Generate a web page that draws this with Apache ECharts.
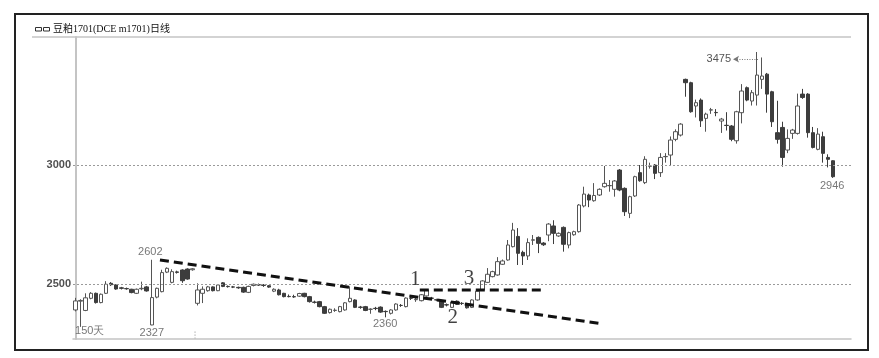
<!DOCTYPE html>
<html>
<head>
<meta charset="utf-8">
<script src="https://cdn.jsdelivr.net/npm/echarts@6/dist/echarts.min.js"></script>
<style>
html,body{margin:0;padding:0;background:#fff;}
#chart{width:879px;height:358px;}
</style>
</head>
<body>
<div id="chart"></div>
<script>
// ---- data ----
const titleText = '豆粕1701(DCE m1701)日线';
const yTicks = [2500, 3000];
const opens = [2391,2428,2389,2440,2461,2422,2461,2503,2496,2484,2481,2478,2461,2480,2488,2328,2445,2468,2550,2507,
2551,2559,2563,2560,2419,2461,2472,2488,2472,2505,2490,2488,2486,2486,2465,2494,2497,2495,2493,2470,
2475,2461,2448,2447,2449,2461,2447,2424,2426,2405,2380,2389,2384,2391,2426,2433,2403,2405,2394,2398,
2403,2385,2377,2391,2410,2405,2440,2434,2430,2450,2441,2434,2428,2413,2402,2428,2419,2418,2402,2433,
2475,2507,2531,2538,2583,2601,2657,2700,2633,2618,2684,2696,2672,2706,2744,2702,2738,2664,2707,2720,
2828,2874,2850,2874,2909,2913,2898,2979,2902,2797,2870,2968,2926,2995,3000,2968,3035,3042,3108,3126,
3360,3346,3248,3273,3196,3231,3221,3185,3167,3164,3102,3220,3325,3269,3294,3360,3382,3308,3136,3158,
3063,3133,3133,3298,3298,3136,3066,3119,3032,3018];
const closes = [2429,2431,2442,2461,2422,2457,2499,2497,2479,2482,2480,2464,2478,2482,2471,2443,2482,2548,2566,2552,
2549,2514,2521,2564,2475,2478,2488,2472,2496,2490,2489,2487,2484,2466,2490,2499,2496,2494,2487,2478,
2455,2447,2447,2446,2460,2447,2426,2423,2405,2377,2394,2390,2405,2421,2440,2402,2402,2389,2394,2397,
2382,2384,2391,2416,2410,2441,2440,2436,2455,2475,2440,2433,2402,2412,2425,2415,2418,2400,2433,2470,
2513,2541,2552,2594,2597,2664,2727,2629,2618,2674,2686,2671,2665,2752,2713,2713,2667,2716,2720,2832,
2878,2853,2872,2898,2923,2914,2933,2895,2804,2867,2951,2934,3024,2996,2965,3032,3036,3105,3140,3172,
3346,3224,3262,3186,3214,3232,3220,3193,3166,3108,3224,3311,3273,3304,3378,3374,3298,3182,3108,3032,
3112,3147,3248,3284,3136,3074,3130,3049,3024,2951];
const lows = [2385,2320,2386,2436,2418,2419,2458,2492,2476,2477,2476,2461,2458,2474,2468,2327,2440,2465,2546,2503,
2544,2505,2518,2556,2410,2420,2468,2469,2470,2487,2485,2483,2480,2463,2462,2490,2492,2488,2484,2466,
2452,2444,2444,2442,2446,2444,2422,2418,2402,2374,2376,2383,2381,2388,2423,2399,2396,2386,2375,2390,
2379,2360,2372,2388,2404,2402,2433,2425,2427,2447,2435,2428,2399,2406,2399,2412,2412,2397,2399,2430,
2472,2504,2528,2535,2580,2598,2654,2580,2580,2601,2664,2630,2660,2680,2668,2698,2636,2650,2703,2716,
2822,2823,2846,2870,2905,2888,2867,2890,2786,2777,2866,2930,2920,2985,2941,2950,3010,3000,3100,3120,
3287,3220,3200,3160,3140,3215,3205,3135,3145,3100,3090,3175,3268,3250,3250,3320,3220,3160,3090,2993,
3050,3110,3128,3278,3115,3070,3062,3010,2990,2946];
const highs = [2442,2436,2461,2466,2464,2460,2512,2508,2499,2488,2485,2480,2481,2510,2492,2602,2485,2560,2570,2562,
2556,2562,2566,2567,2503,2490,2492,2490,2500,2508,2494,2492,2489,2489,2493,2502,2502,2500,2496,2482,
2480,2463,2456,2455,2463,2463,2450,2430,2429,2408,2397,2398,2408,2424,2490,2436,2408,2408,2398,2404,
2406,2389,2394,2419,2416,2444,2446,2445,2458,2478,2446,2438,2431,2418,2428,2431,2424,2421,2436,2473,
2516,2567,2556,2613,2603,2685,2757,2735,2640,2692,2706,2700,2676,2756,2768,2717,2742,2720,2724,2836,
2909,2880,2924,2902,2996,2937,2937,2983,2906,2871,2955,3000,3037,3010,3004,3050,3050,3120,3150,3176,
3363,3350,3275,3280,3220,3240,3235,3198,3222,3168,3228,3340,3330,3315,3475,3452,3387,3312,3270,3182,
3150,3152,3300,3320,3302,3160,3155,3140,3045,3020];
const emptySlots = 3; // blank space at the right end of the axis
// trend lines drawn on the chart: [dayIndex, price]
const trendDown = [[16.6, 2601], [103.3, 2334]];
const trendFlat = [[67.7, 2475], [91.9, 2475]];
// annotations: text, day position, price position
const noteText = ['2602', '2327', '150天', '2360', '2946', '1', '2', '3'];
const noteX    = [14.7,   15.0,   -0.1,   60.9,   148.8,  66.8, 74.2, 77.4];
const noteY    = [2634,   2295,   2304,   2331,   2913,   2521, 2361, 2523];
const highMark = {text: '3475', from: [134.2, 3445], to: [129.3, 3445]};
const sepMark = [[23.5, 2300], [23.5, 2272]];

// ---- chart ----
const n = opens.length;
const categories = [];
for (let i = 0; i < n + emptySlots; i++) categories.push(String(i + 1));
const ohlc = opens.map((o, i) => [o, closes[i], lows[i], highs[i]]);

const bigNotes = ['1', '2', '3'];
const noteData = noteText.map((t, i) => {
  const big = bigNotes.indexOf(t) >= 0;
  return {
    value: [noteX[i], noteY[i]],
    label: {
      show: true,
      position: 'inside',
      formatter: t,
      align: t === '150天' ? 'left' : 'center',
      verticalAlign: 'middle',
      color: big ? '#111' : '#555',
      fontSize: big ? 21 : 11,
      fontFamily: big ? 'Liberation Serif, serif' : 'Liberation Sans, Arial, sans-serif'
    }
  };
});

const trendStyle = {color: '#111', width: 3, type: [9, 5]};

const chart = echarts.init(document.getElementById('chart'), null, {renderer: 'canvas'});
chart.setOption({
  animation: false,
  backgroundColor: '#fff',
  grid: {left: 73, top: 37, width: 778, height: 302, containLabel: false},
  xAxis: [
    {type: 'category', data: categories, boundaryGap: true,
     axisLine: {show: true, lineStyle: {color: '#c4c4c4', width: 1.5}},
     axisTick: {show: false}, axisLabel: {show: false}, splitLine: {show: false}},
    {type: 'value', min: -0.5, max: n + emptySlots - 0.5, show: false}
  ],
  yAxis: {
    type: 'value', min: 2269, max: 3538,
    axisLine: {show: true, lineStyle: {color: '#c4c4c4', width: 2}},
    axisTick: {show: false},
    splitLine: {show: false},
    axisLabel: {customValues: yTicks, margin: 2, color: '#505050', fontSize: 11,
                formatter: v => String(v),
                fontWeight: 'bold', fontFamily: 'Liberation Sans, Arial, sans-serif'}
  },
  series: [
    {
      type: 'candlestick', data: ohlc, barWidth: 4,
      itemStyle: {color: '#ffffff', color0: '#3d3d3d', borderColor: '#555555', borderColor0: '#3d3d3d', borderWidth: 1},
      markLine: {
        silent: true, symbol: ['none', 'none'], label: {show: false},
        lineStyle: {color: '#9a9a9a', width: 1, type: [2, 2]},
        data: yTicks.map(v => ({yAxis: v}))
      },
      z: 3
    },
    {type: 'line', xAxisIndex: 1, data: trendDown, symbol: 'none', lineStyle: trendStyle, z: 5, silent: true},
    {type: 'line', xAxisIndex: 1, data: trendFlat, symbol: 'none', lineStyle: trendStyle, z: 5, silent: true},
    {type: 'line', xAxisIndex: 1, data: sepMark, symbol: 'none',
     lineStyle: {color: '#888', width: 1, type: [1, 2]}, z: 2, silent: true},
    {
      type: 'scatter', xAxisIndex: 1, data: noteData, symbolSize: 0, z: 6, silent: true,
      markLine: {
        silent: true, symbol: ['none', 'arrow'], symbolSize: [5, 6],
        lineStyle: {color: '#777', width: 1, type: [1, 1.5]},
        label: {show: true, position: 'end', formatter: highMark.text, color: '#555', fontSize: 11,
                distance: 2, fontFamily: 'Liberation Sans, Arial, sans-serif'},
        data: [[{coord: highMark.from}, {coord: highMark.to}]]
      }
    }
  ],
  graphic: [
    {type: 'rect', shape: {x: 15, y: 14, width: 853, height: 336},
     style: {fill: 'none', stroke: '#222', lineWidth: 2}, silent: true},
    {type: 'line', shape: {x1: 32, y1: 37, x2: 851, y2: 37},
     style: {stroke: '#c4c4c4', lineWidth: 1.5}, silent: true},
    {type: 'rect', shape: {x: 35.5, y: 27.5, width: 6, height: 3.5},
     style: {fill: 'none', stroke: '#333', lineWidth: 1}, silent: true},
    {type: 'rect', shape: {x: 43.5, y: 27.5, width: 6, height: 3.5},
     style: {fill: 'none', stroke: '#333', lineWidth: 1}, silent: true},
    {type: 'text', x: 53, y: 29,
     style: {text: titleText, fill: '#111', font: '10px "Liberation Serif", "Noto Sans CJK SC", serif',
             textVerticalAlign: 'middle', verticalAlign: 'middle'}, silent: true}
  ]
});
</script>
</body>
</html>
